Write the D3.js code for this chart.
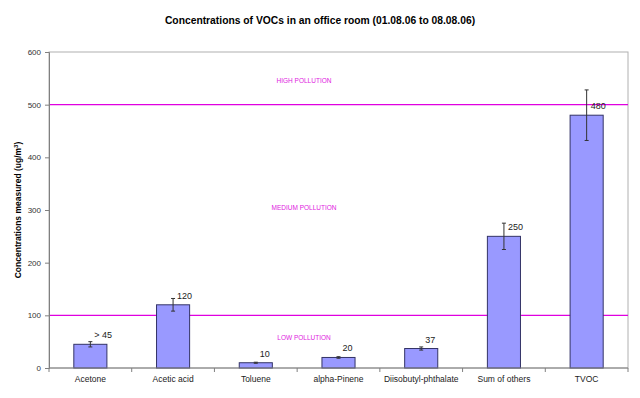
<!DOCTYPE html>
<html>
<head>
<meta charset="utf-8">
<script src="https://cdn.jsdelivr.net/npm/d3@7"></script>
<style>
  body { margin: 0; background: #fff; }
  text { font-family: "Liberation Sans", Arial, sans-serif; }
</style>
</head>
<body>
<div id="holder"></div>
<script>
const w = 640;
const h = 398;

// Data
const compounds = ["Acetone", "Acetic acid", "Toluene", "alpha-Pinene", "Diisobutyl-phthalate", "Sum of others", "TVOC"];
const concentrations = [45, 120, 10, 20, 37, 250, 480];
const errors = [5, 12, 1, 1.5, 3, 25, 48];
const valueLabels = ["> 45", "120", "10", "20", "37", "250", "480"];
const yTicks = [0, 100, 200, 300, 400, 500, 600];
const limits = [100, 500];
const zoneNames = ["LOW POLLUTION", "MEDIUM POLLUTION", "HIGH POLLUTION"];
const zoneLevels = [58, 305, 545];

const margin = { top: 52, right: 12, bottom: 30, left: 49 };

const svg = d3.select("#holder")
    .append("svg")
    .attr("width", w)
    .attr("height", h)

const x = d3.scaleBand()
    .domain(compounds)
    .range([margin.left, w - margin.right])
    .paddingInner(0.6)
    .paddingOuter(0.3)

// band boundaries for the category ticks
const xb = d3.scaleBand()
    .domain(compounds)
    .range([margin.left, w - margin.right])

const y = d3.scaleLinear()
    .domain([0, 600])
    .range([h - margin.bottom, margin.top])

// Title
svg.append("text")
    .attr("x", 320)
    .attr("y", 24)
    .attr("text-anchor", "middle")
    .attr("font-size", 10.3)
    .attr("font-weight", "bold")
    .text("Concentrations of VOCs in an office room (01.08.06 to 08.08.06)")

// Plot frame (top & right)
svg.append("rect")
    .attr("x", margin.left)
    .attr("y", margin.top)
    .attr("width", w - margin.right - margin.left)
    .attr("height", h - margin.bottom - margin.top)
    .attr("fill", "none")
    .attr("stroke", "#b0b0b0")
    .attr("stroke-width", 1)

// Pollution limit lines
svg.selectAll(".limit")
    .data(limits)
    .join("line")
    .attr("class", "limit")
    .attr("x1", margin.left)
    .attr("x2", w - margin.right)
    .attr("y1", d => y(d))
    .attr("y2", d => y(d))
    .attr("stroke", "#e000e0")
    .attr("stroke-width", 1.4)

svg.selectAll(".zone")
    .data(zoneNames)
    .join("text")
    .attr("class", "zone")
    .attr("x", 304)
    .attr("y", (d, i) => y(zoneLevels[i]) + 2.5)
    .attr("text-anchor", "middle")
    .attr("font-size", 6.5)
    .attr("fill", "#e020e0")
    .text(d => d)

// Bars
svg.selectAll(".bar")
    .data(compounds)
    .join("rect")
    .attr("class", "bar")
    .attr("x", d => x(d))
    .attr("y", (d, i) => y(concentrations[i]))
    .attr("width", x.bandwidth())
    .attr("height", (d, i) => y(0) - y(concentrations[i]))
    .attr("fill", "#9999ff")
    .attr("stroke", "#333366")
    .attr("stroke-width", 1)

// Error bars
const err = svg.selectAll(".err")
    .data(compounds)
    .join("g")
    .attr("class", "err")
    .attr("stroke", "#333")
    .attr("stroke-width", 1)

err.append("line")
    .attr("x1", d => x(d) + x.bandwidth() / 2)
    .attr("x2", d => x(d) + x.bandwidth() / 2)
    .attr("y1", (d, i) => y(concentrations[i] + errors[i]))
    .attr("y2", (d, i) => y(concentrations[i] - errors[i]))

err.append("line")
    .attr("x1", d => x(d) + x.bandwidth() / 2 - 2)
    .attr("x2", d => x(d) + x.bandwidth() / 2 + 2)
    .attr("y1", (d, i) => y(concentrations[i] + errors[i]))
    .attr("y2", (d, i) => y(concentrations[i] + errors[i]))

err.append("line")
    .attr("x1", d => x(d) + x.bandwidth() / 2 - 2)
    .attr("x2", d => x(d) + x.bandwidth() / 2 + 2)
    .attr("y1", (d, i) => y(concentrations[i] - errors[i]))
    .attr("y2", (d, i) => y(concentrations[i] - errors[i]))

// Value labels
svg.selectAll(".vlabel")
    .data(compounds)
    .join("text")
    .attr("class", "vlabel")
    .attr("x", d => x(d) + x.bandwidth() / 2 + 4)
    .attr("y", (d, i) => y(concentrations[i]) - 6)
    .attr("font-size", 9)
    .attr("fill", "#222")
    .text((d, i) => valueLabels[i])

// Y axis
const yAxis = d3.axisLeft(y)
    .tickValues(yTicks)
    .tickSize(4)
    .tickPadding(4)

svg.append("g")
    .attr("transform", `translate(${margin.left},0)`)
    .call(yAxis)
    .call(g => g.selectAll("path, line").attr("stroke", "#808080"))
    .call(g => g.selectAll("text")
        .attr("font-size", 8)
        .attr("fill", "#333")
        .attr("font-family", "Liberation Sans, Arial, sans-serif"))

// X axis
const xAxis = d3.axisBottom(x)
    .tickSize(0)
    .tickPadding(8)

svg.append("g")
    .attr("transform", `translate(0,${h - margin.bottom})`)
    .call(xAxis)
    .call(g => g.select(".domain").attr("stroke", "#808080").attr("d", `M${margin.left},0H${w - margin.right}`))
    .call(g => g.selectAll("text")
        .attr("font-size", 8.5)
        .attr("fill", "#222")
        .attr("font-family", "Liberation Sans, Arial, sans-serif"))

// category separator ticks
svg.selectAll(".ctick")
    .data(compounds)
    .join("line")
    .attr("class", "ctick")
    .attr("x1", d => xb(d))
    .attr("x2", d => xb(d))
    .attr("y1", y(0))
    .attr("y2", y(0) + 4)
    .attr("stroke", "#808080")

svg.append("line")
    .attr("x1", w - margin.right)
    .attr("x2", w - margin.right)
    .attr("y1", y(0))
    .attr("y2", y(0) + 4)
    .attr("stroke", "#808080")

// Y axis title
const yt = svg.append("text")
    .attr("transform", `translate(21,${(margin.top + h - margin.bottom) / 2}) rotate(-90)`)
    .attr("text-anchor", "middle")
    .attr("font-size", 8.5)
    .attr("font-weight", "bold")
yt.append("tspan").text("Concentrations measured (ug/m")
yt.append("tspan").attr("font-size", 6).attr("dy", -3).text("3")
yt.append("tspan").attr("dy", 3).text(")")
</script>
</body>
</html>
